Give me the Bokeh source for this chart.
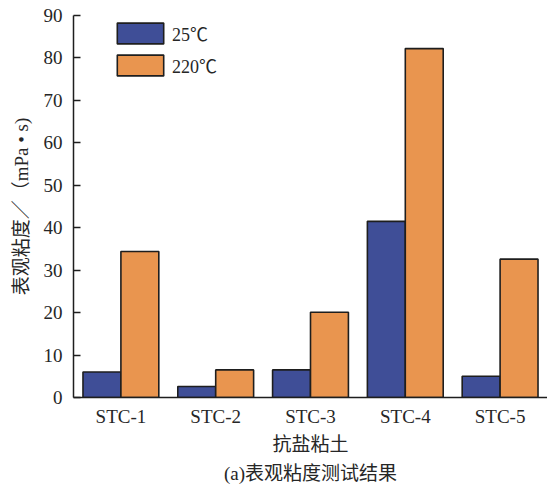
from bokeh.plotting import figure
from bokeh.models import FactorRange, Range1d, Legend, LegendItem, Title, ColumnDataSource, FixedTicker
from bokeh.transform import dodge
from bokeh.embed import file_html
from bokeh.resources import INLINE

categories = ["STC-1", "STC-2", "STC-3", "STC-4", "STC-5"]
series_names = ["25℃", "220℃"]
visc_25 = [6.0, 2.6, 6.5, 41.5, 5.0]
visc_220 = [34.4, 6.5, 20.1, 82.2, 32.6]
y_ticks = [0, 10, 20, 30, 40, 50, 60, 70, 80, 90]
x_label = "抗盐粘土"
y_label = "表观粘度／（mPa • s)"
caption = "(a)表观粘度测试结果"

FONT = "'Liberation Serif', 'Noto Sans CJK SC'"
TXT = "#262626"
BLUE = "#3F4E97"
ORANGE = "#E9954F"

src = ColumnDataSource(dict(cat=categories, v25=visc_25, v220=visc_220))

p = figure(frame_width=474, frame_height=382,
           x_range=FactorRange(factors=categories, range_padding=0),
           y_range=Range1d(0, 90),
           output_backend="svg", toolbar_location=None,
           min_border_left=73, min_border_top=15, min_border_right=0, min_border_bottom=0)
p.title = None

r1 = p.vbar(x=dodge("cat", -0.2, range=p.x_range), top="v25", width=0.4, source=src,
            fill_color=BLUE, line_color="#1e1e1e", line_width=1.6)
r2 = p.vbar(x=dodge("cat", 0.2, range=p.x_range), top="v220", width=0.4, source=src,
            fill_color=ORANGE, line_color="#1e1e1e", line_width=1.6)

p.xgrid.visible = False
p.ygrid.visible = False
p.outline_line_color = None

p.yaxis.ticker = FixedTicker(ticks=y_ticks)
for ax in (p.xaxis[0], p.yaxis[0]):
    ax.axis_line_color = "#1e1e1e"
    ax.axis_line_width = 1.5
    ax.major_tick_line_width = 1.5
    ax.major_label_text_font = FONT
    ax.major_label_text_font_size = "19px"
    ax.major_label_text_color = TXT
    ax.axis_label_text_font = FONT
    ax.axis_label_text_font_size = "19px"
    ax.axis_label_text_font_style = "normal"
    ax.axis_label_text_color = TXT
p.yaxis.major_tick_line_color = "#1e1e1e"
p.yaxis.major_tick_in = 7
p.yaxis.major_tick_out = 0
p.yaxis.minor_tick_line_color = None
p.yaxis.major_label_standoff = 11
p.xaxis.major_tick_line_color = None
p.xaxis.major_tick_in = 0
p.xaxis.major_tick_out = 0
p.xaxis.major_label_standoff = 8

p.xaxis.axis_label = x_label
p.xaxis.axis_label_standoff = 4
p.yaxis.axis_label = y_label
p.yaxis.axis_label_standoff = 9

legend = Legend(items=[LegendItem(label=series_names[0], renderers=[r1]),
                       LegendItem(label=series_names[1], renderers=[r2])],
                location=(38, 319), padding=0, margin=0, spacing=6,
                glyph_width=58, glyph_height=26, label_standoff=3,
                label_text_font=FONT, label_text_font_size="18px", label_text_color=TXT,
                border_line_color=None, background_fill_alpha=0)
p.add_layout(legend)

p.add_layout(Title(text=caption, align="center", text_font=FONT, text_font_size="19px",
                   text_font_style="normal", text_color=TXT, standoff=6, offset=0), "below")

open("out.html", "w").write(file_html(p, INLINE))
